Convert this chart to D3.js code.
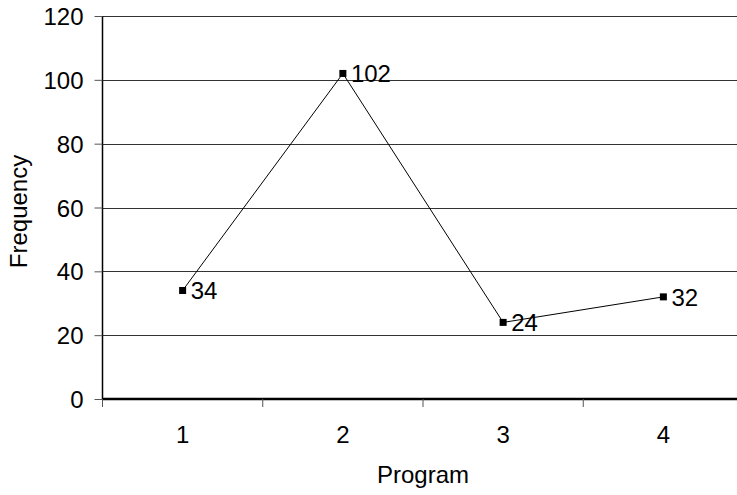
<!DOCTYPE html>
<html><head><meta charset="utf-8">
<script src="https://cdn.jsdelivr.net/npm/d3@7"></script>
<style>body{margin:0;background:#fff}svg{display:block}</style>
</head><body>
<svg id="c" width="737" height="495"></svg>
<script>
const categories = ["1","2","3","4"];
const values = [34,102,24,32];
const yTicks = [0,20,40,60,80,100,120];

(function(){
const svg = d3.select("#c");
const font = "'Liberation Sans', Arial, sans-serif";
const fs = 24;
const pL = 102.5, pT = 16, pB = 399, pR = 743.5;
const x = d3.scaleBand().domain(categories).range([pL, pR]);
const y = d3.scaleLinear().domain([0,120]).range([pB, pT]);

// gridlines
svg.append("g").selectAll("line").data(yTicks.filter(d=>d>0)).join("line")
  .attr("x1", pL).attr("x2", pR)
  .attr("y1", d=>Math.round(y(d))+0.5).attr("y2", d=>Math.round(y(d))+0.5)
  .attr("stroke", "#333").attr("stroke-width", 1);

// y axis
const ya = svg.append("g").attr("transform", `translate(${pL},0)`)
  .call(d3.axisLeft(y).tickValues(yTicks).tickSize(8).tickPadding(11).tickFormat(d3.format("d")));
ya.select(".domain").attr("stroke","#000").attr("stroke-width",1.5).attr("d", `M0,${pT}V${pB}`);
ya.selectAll(".tick line").attr("stroke","#555");
ya.selectAll("text").attr("font-family", font).attr("font-size", fs).attr("fill","#000").attr("dy","0.36em");

// x axis
const xa = svg.append("g").attr("transform", `translate(0,${pB})`)
  .call(d3.axisBottom(x).tickSize(0).tickPadding(27));
xa.select(".domain").attr("stroke","#000").attr("stroke-width",2.5).attr("d", `M${pL},0H${pR}`);
xa.selectAll("text").attr("font-family", font).attr("font-size", fs).attr("fill","#000");
// category boundary ticks
const bounds = categories.map(c=>x(c)).concat([x(categories[categories.length-1])+x.bandwidth()]);
svg.append("g").selectAll("line").data(bounds).join("line")
  .attr("x1", d=>d).attr("x2", d=>d).attr("y1", pB).attr("y2", pB+8)
  .attr("stroke","#555").attr("stroke-width",1);

// line
const cx = d => x(d) + x.bandwidth()/2;
const line = d3.line().x((d,i)=>cx(categories[i])).y(d=>y(d));
svg.append("path").datum(values).attr("d", line).attr("fill","none")
  .attr("stroke","#000").attr("stroke-width",1);

svg.append("g").selectAll("rect").data(values).join("rect")
  .attr("x",(d,i)=>cx(categories[i])-3.5).attr("y",d=>y(d)-3.5)
  .attr("width",7).attr("height",7).attr("fill","#000");

svg.append("g").selectAll("text").data(values).join("text")
  .attr("x",(d,i)=>cx(categories[i])+8).attr("y",d=>y(d)+9)
  .attr("font-family", font).attr("font-size", fs).attr("fill","#000")
  .text(d=>d);

// axis titles
svg.append("text").attr("x", (pL+pR)/2).attr("y", 483)
  .attr("text-anchor","middle").attr("font-family",font).attr("font-size",fs).text("Program");
svg.append("text").attr("transform", `translate(27,${(pT+pB)/2 + 4}) rotate(-90)`)
  .attr("text-anchor","middle").attr("font-family",font).attr("font-size",fs).text("Frequency");
})();
</script>
</body></html>
